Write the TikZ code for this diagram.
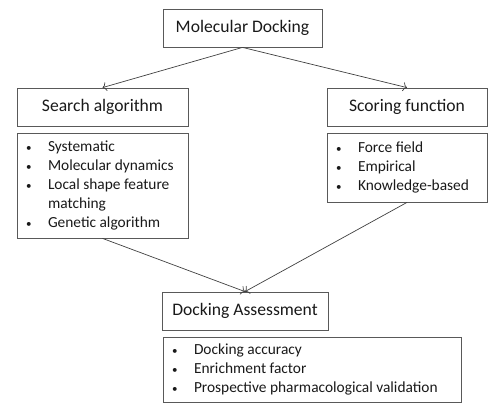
\documentclass[tikz,border=0pt]{standalone}
\usepackage{fontspec}
\setmainfont{Carlito}
\usepackage{array}
\usetikzlibrary{positioning}
\usetikzlibrary{arrows.meta}

\begin{document}
\begin{tikzpicture}[x=1pt, y=-1pt,
    every node/.style={draw=black!65, line width=0.8pt, rectangle, inner sep=0pt, text=black!90},
    head/.style={minimum height=38pt, font=\fontsize{17.6}{20}\selectfont},
    list/.style={align=left, font=\fontsize{15.4}{19}\selectfont},
    link/.style={-{To[length=4pt, width=9pt]}, draw=black!75, line width=0.7pt}]
        % Keep the page the same size as the reference
        \useasboundingbox (0,0) rectangle (500,414);

        % Bullet list rows: bullet, then text
        \def\bl{{\fontsize{11}{11}\selectfont\textbullet}}

        % Draw the heading boxes
        \node[head, minimum width=159pt] (dock) at (242.5,28) {Molecular Docking};
        \node[head, minimum width=171pt] (search) at (102.5,107) {Search algorithm};
        \node[head, minimum width=160pt] (score) at (407,107) {Scoring function};
        \node[head, minimum width=166pt] (assess) at (245,311) {Docking Assessment};

        % Draw the list boxes under each heading
        \node[list, minimum width=171pt, minimum height=105pt] (searchlist) at (102.5,185.5)
          {\begin{tabular}{@{\hspace{7pt}}p{22pt}@{}>{\raggedright\arraybackslash}p{138pt}@{}}
             \bl & Systematic\\
             \bl & Molecular dynamics\\
             \bl & Local shape feature matching\\
             \bl & Genetic algorithm
           \end{tabular}};
        \node[list, minimum width=160pt, minimum height=69pt] (scorelist) at (407,167.5)
          {\begin{tabular}{@{\hspace{7pt}}p{22pt}@{}>{\raggedright\arraybackslash}p{127pt}@{}}
             \bl & Force field\\
             \bl & Empirical\\
             \bl & Knowledge-based
           \end{tabular}};
        \node[list, minimum width=298pt, minimum height=65pt] (assesslist) at (312,369.5)
          {\begin{tabular}{@{\hspace{7pt}}p{22pt}@{}>{\raggedright\arraybackslash}p{265pt}@{}}
             \bl & Docking accuracy\\
             \bl & Enrichment factor\\
             \bl & Prospective pharmacological validation
           \end{tabular}};

        % Connect the boxes
        \draw[link] (dock.south) -- (search.north);
        \draw[link] (dock.south) -- (score.north);
        \draw[link] (searchlist.south) -- (assess.north);
        \draw[link] (scorelist.south) -- (assess.north);
      \end{tikzpicture}
\end{document}
